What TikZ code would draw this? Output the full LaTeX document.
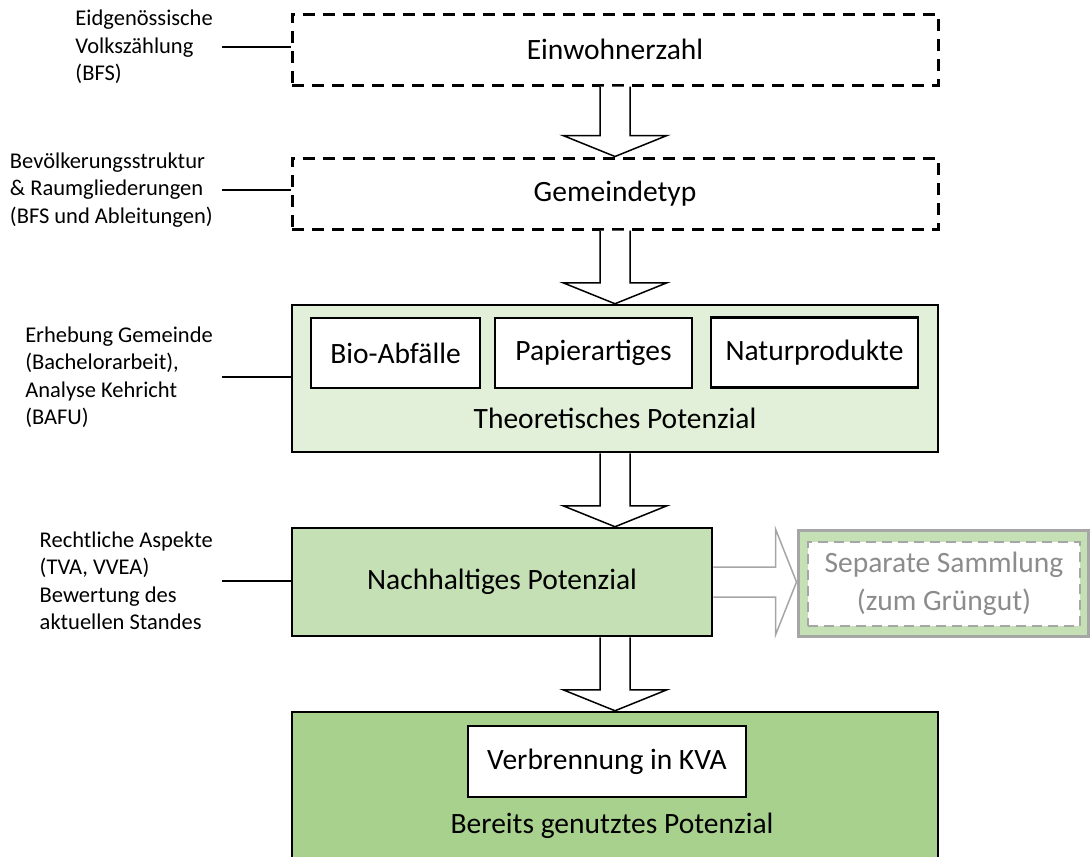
\documentclass[tikz,border=0pt]{standalone}
\usepackage{fontspec}
\setmainfont{Carlito}
\usetikzlibrary{calc}

\definecolor{lightgreen}{HTML}{E2F0D9}
\definecolor{midgreen}{HTML}{C5E0B4}
\definecolor{darkgreen}{HTML}{A9D18E}
\definecolor{sepgray}{RGB}{166,166,166}
\definecolor{septext}{RGB}{140,140,140}

\tikzset{
  mainfont/.style={font=\fontsize{29.5}{38}\selectfont},
  srcfont/.style={font=\fontsize{22.5}{27.5}\selectfont},
  dashbox/.style={draw, line width=3pt, dash pattern=on 12pt off 8pt, minimum width=646pt, minimum height=71pt, mainfont},
  greenbox/.style={draw, line width=2.5pt, minimum width=646pt, mainfont},
  whitebox/.style={draw, fill=white, line width=2.5pt, minimum height=70pt, mainfont},
  source/.style={srcfont, align=left, anchor=east, inner sep=0pt},
  blockarr/.style={fill=white, line width=1.5pt, line join=miter},
  srcline/.style={line width=1.5pt},
}

% block arrow downwards: x from start, tip at end
\newcommand{\downblock}[3][black]{%
  \path[blockarr, draw=#1] let \p1=(#2), \p2=(#3) in
    (\x1-15pt,\y1) -- (\x1-15pt,\y2+21pt) -- (\x1-52pt,\y2+21pt) -- (\x1,\y2)
    -- (\x1+52pt,\y2+21pt) -- (\x1+15pt,\y2+21pt) -- (\x1+15pt,\y1);
}
% block arrow to the right
\newcommand{\rightblock}[3][black]{%
  \path[blockarr, draw=#1] let \p1=(#2), \p2=(#3) in
    (\x1,\y1+15pt) -- (\x2-21pt,\y1+15pt) -- (\x2-21pt,\y1+53pt) -- (\x2,\y1)
    -- (\x2-21pt,\y1-53pt) -- (\x2-21pt,\y1-15pt) -- (\x1,\y1-15pt);
}

\begin{document}
\begin{tikzpicture}[x=1pt, y=-1pt]
  \useasboundingbox (0,0) rectangle (1090,857);
  \clip (0,0) rectangle (1090,857);

  % Main boxes
  \node[dashbox] (einw) at (615,49.5) {Einwohnerzahl};
  \node[dashbox] (gem) at (615,193.5) {Gemeindetyp};
  \node[greenbox, fill=lightgreen, minimum height=147pt] (theo) at (615,378.5) {};
  \node[greenbox, fill=midgreen, minimum width=420pt, minimum height=108pt] (nach) at (502,582) {Nachhaltiges Potenzial};
  \node[greenbox, fill=darkgreen, minimum height=170pt] (ber) at (615,797) {};

  % Inner boxes and labels
  \node[whitebox, minimum width=169pt] (bio) at (395.5,353) {Bio-Abfälle};
  \node[whitebox, minimum width=197pt] (pap) at (593.5,353) {Papierartiges};
  \node[whitebox, minimum width=207pt] (nat) at (814.5,352.5) {Naturprodukte};
  \node[mainfont] (theolab) at (615,418) {Theoretisches Potenzial};
  \node[whitebox, minimum width=278pt, minimum height=71pt] (verb) at (607,761.5) {Verbrennung in KVA};
  \node[mainfont] (berlab) at (612,826) {Bereits genutztes Potenzial};

  % Separate collection
  \node[draw=sepgray, fill=midgreen, line width=3pt, minimum width=290pt, minimum height=106pt] (sep) at (943,583) {};
  \node[draw=sepgray, fill=white, line width=2pt, dash pattern=on 10pt off 6pt,
        minimum width=272pt, minimum height=84pt, align=center, mainfont, text=septext] (sepin) at (944,584) {Separate Sammlung\\(zum Grüngut)};

  % Sources
  \node[source] (src1) at (213,47) {Eidgenössische\\Volkszählung\\(BFS)};
  \node[source] (src2) at (213,190) {Bevölkerungsstruktur\\\& Raumgliederungen\\(BFS und Ableitungen)};
  \node[source] (src3) at (213,377) {Erhebung Gemeinde\\(Bachelorarbeit),\\Analyse Kehricht\\(BAFU)};
  \node[source] (src4) at (213,581) {Rechtliche Aspekte\\(TVA, VVEA)\\Bewertung des\\aktuellen Standes};

  \draw[srcline] ([xshift=9pt]src1.east) -- (src1.east -| einw.west);
  \draw[srcline] ([xshift=9pt]src2.east) -- (src2.east -| gem.west);
  \draw[srcline] ([xshift=9pt]src3.east) -- (src3.east -| theo.west);
  \draw[srcline] ([xshift=9pt]src4.east) -- (src4.east -| nach.west);

  % Block arrows
  \downblock{einw.south}{gem.north}
  \downblock{gem.south}{theo.north}
  \downblock{theo.south}{nach.north -| theo.south}
  \downblock{nach.south -| ber.north}{ber.north}
  \rightblock[sepgray]{nach.east}{sep.west}
\end{tikzpicture}
\end{document}
